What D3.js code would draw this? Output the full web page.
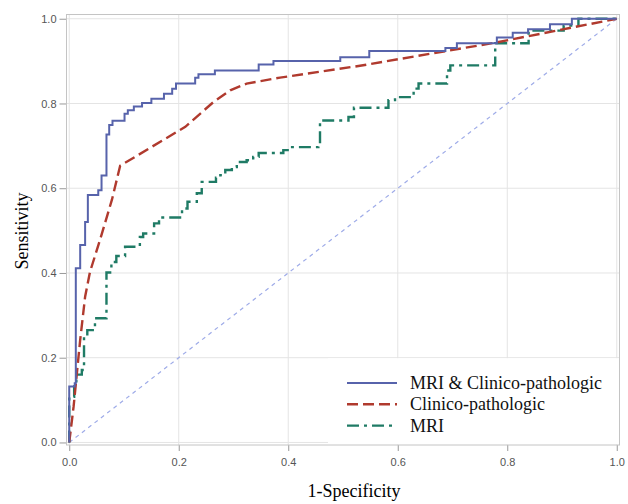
<!DOCTYPE html>
<html>
<head>
<meta charset="utf-8">
<script src="https://cdn.jsdelivr.net/npm/d3@7"></script>
<style>
    body { margin: 0; background: #fff; }
    #roc-chart { width: 628px; height: 504px; }
</style>
</head>
<body>
<div id="roc-chart"></div>
<script>
// values: [1-specificity, sensitivity]
let xTicks = [0.0, 0.2, 0.4, 0.6, 0.8, 1.0];
let yTicks = [0.0, 0.2, 0.4, 0.6, 0.8, 1.0];
let seriesNames = ["MRI & Clinico-pathologic", "Clinico-pathologic", "MRI"];

let combinedRoc = [
    [0, 0], [0, 0.132], [0.01, 0.14], [0.012, 0.411], [0.02, 0.466], [0.029, 0.52],
    [0.034, 0.584], [0.053, 0.595], [0.059, 0.63], [0.068, 0.727], [0.073, 0.749],
    [0.079, 0.759], [0.101, 0.776], [0.107, 0.784], [0.118, 0.793], [0.133, 0.801],
    [0.15, 0.811], [0.173, 0.823], [0.188, 0.835], [0.195, 0.847], [0.23, 0.861],
    [0.236, 0.869], [0.266, 0.878], [0.346, 0.892], [0.373, 0.9], [0.495, 0.909],
    [0.548, 0.924], [0.687, 0.931], [0.708, 0.942], [0.781, 0.956], [0.81, 0.967],
    [0.838, 0.975], [0.878, 0.987], [0.918, 1.0], [1, 1]
];

let clinicalRoc = [
    [0, 0], [0.008, 0.085], [0.02, 0.242], [0.029, 0.344], [0.038, 0.403],
    [0.056, 0.477], [0.078, 0.573], [0.093, 0.653], [0.212, 0.745], [0.263, 0.803],
    [0.294, 0.831], [0.324, 0.847], [0.385, 0.861], [0.531, 0.889], [0.78, 0.944], [1, 1]
];

let mriRoc = [
    [0, 0], [0, 0.108], [0.009, 0.132], [0.013, 0.16], [0.023, 0.171], [0.027, 0.25],
    [0.033, 0.265], [0.047, 0.293], [0.068, 0.401], [0.077, 0.426], [0.086, 0.44],
    [0.102, 0.462], [0.129, 0.485], [0.135, 0.493], [0.155, 0.517], [0.164, 0.531],
    [0.206, 0.552], [0.216, 0.568], [0.233, 0.588], [0.242, 0.615], [0.268, 0.625],
    [0.276, 0.631], [0.285, 0.643], [0.297, 0.65], [0.306, 0.662], [0.324, 0.666],
    [0.336, 0.674], [0.346, 0.683], [0.391, 0.69], [0.402, 0.697], [0.455, 0.705],
    [0.458, 0.76], [0.51, 0.768], [0.52, 0.79], [0.583, 0.808], [0.595, 0.815],
    [0.629, 0.835], [0.638, 0.847], [0.69, 0.878], [0.696, 0.89], [0.778, 0.942],
    [0.839, 0.972], [0.903, 0.984], [0.93, 1.0], [1, 1]
];

let chanceLine = [[0, 0], [1, 1]];

class RocChart {

    constructor(parentElement) {
        this.parentElement = parentElement;
        this.initVis();
    }

    initVis() {
        let vis = this;

        vis.frame = {left: 66.5, right: 619.5, top: 14.5, bottom: 445};

        vis.svg = d3.select("#" + vis.parentElement).append("svg")
            .attr("width", 628)
            .attr("height", 504);

        vis.x = d3.scaleLinear().domain([-0.005, 1.005]).range([vis.frame.left, vis.frame.right]);
        vis.y = d3.scaleLinear().domain([-0.006, 1.01]).range([vis.frame.bottom, vis.frame.top]);

        // grid
        vis.svg.append("g").selectAll("line.vgrid")
            .data(xTicks).enter().append("line")
            .attr("x1", d => vis.x(d)).attr("x2", d => vis.x(d))
            .attr("y1", vis.frame.top).attr("y2", vis.frame.bottom)
            .attr("stroke", "#e4e4e4");
        vis.svg.append("g").selectAll("line.hgrid")
            .data(yTicks).enter().append("line")
            .attr("x1", vis.frame.left).attr("x2", vis.frame.right)
            .attr("y1", d => vis.y(d)).attr("y2", d => vis.y(d))
            .attr("stroke", "#e4e4e4");

        // legend box covers the grid
        vis.svg.append("rect")
            .attr("x", 328).attr("y", vis.y(0.2) + 0.5)
            .attr("width", vis.frame.right - 328 - 0.5)
            .attr("height", vis.frame.bottom - vis.y(0.2) - 1)
            .attr("fill", "white");

        // axes
        let xAxis = d3.axisBottom(vis.x).tickValues(xTicks).tickFormat(d3.format(".1f")).tickSize(6).tickSizeOuter(0);
        let yAxis = d3.axisLeft(vis.y).tickValues(yTicks).tickFormat(d3.format(".1f")).tickSize(7).tickSizeOuter(0);

        vis.xAxisG = vis.svg.append("g")
            .attr("transform", `translate(0, ${vis.frame.bottom})`)
            .call(xAxis);
        vis.yAxisG = vis.svg.append("g")
            .attr("transform", `translate(${vis.frame.left}, 0)`)
            .call(yAxis);

        [vis.xAxisG, vis.yAxisG].forEach(g => {
            g.select(".domain").remove();
            g.selectAll(".tick line").attr("stroke", "#9a9a9a");
            g.selectAll(".tick text")
                .attr("fill", "#555")
                .style("font-family", "'Liberation Sans', Arial, sans-serif")
                .style("font-size", "11px");
        });
        vis.xAxisG.selectAll(".tick text").attr("dy", "1.1em");
        vis.yAxisG.selectAll(".tick text").attr("x", -10);

        vis.svg.append("rect")
            .attr("x", vis.frame.left).attr("y", vis.frame.top)
            .attr("width", vis.frame.right - vis.frame.left)
            .attr("height", vis.frame.bottom - vis.frame.top)
            .attr("fill", "none")
            .attr("stroke", "#c4c4c4");

        // titles
        vis.svg.append("text")
            .attr("x", 354).attr("y", 497)
            .attr("text-anchor", "middle")
            .style("font-family", "'Liberation Serif', 'Times New Roman', serif")
            .style("font-size", "18px")
            .text("1-Specificity");

        vis.svg.append("text")
            .attr("transform", "translate(28, 231) rotate(-90)")
            .attr("text-anchor", "middle")
            .style("font-family", "'Liberation Serif', 'Times New Roman', serif")
            .style("font-size", "18px")
            .text("Sensitivity");

        vis.wrangleData();
    }

    wrangleData() {
        let vis = this;

        vis.displayData = [
            {name: seriesNames[0], values: combinedRoc, color: "#5763ab", dash: null, width: 2, curve: d3.curveStepAfter},
            {name: seriesNames[1], values: clinicalRoc, color: "#b03a2e", dash: "11,5", width: 2.4, curve: d3.curveLinear},
            {name: seriesNames[2], values: mriRoc, color: "#1f7b65", dash: "12,5,3,5", width: 2.4, curve: d3.curveStepAfter}
        ];

        vis.updateVis();
    }

    updateVis() {
        let vis = this;

        vis.svg.append("path")
            .datum(chanceLine)
            .attr("d", d3.line().x(d => vis.x(d[0])).y(d => vis.y(d[1])))
            .attr("fill", "none")
            .attr("stroke", "#9eabe8")
            .attr("stroke-width", 1.2)
            .attr("stroke-dasharray", "4,4");

        vis.displayData.slice().reverse().forEach(s => {
            vis.svg.append("path")
                .datum(s.values)
                .attr("d", d3.line().curve(s.curve).x(d => vis.x(d[0])).y(d => vis.y(d[1])))
                .attr("fill", "none")
                .attr("stroke", s.color)
                .attr("stroke-width", s.width)
                .attr("stroke-dasharray", s.dash);
        });

        // legend
        let legend = vis.svg.append("g").attr("class", "legend");
        let rows = legend.selectAll("g").data(vis.displayData).enter().append("g")
            .attr("transform", (d, i) => `translate(347, ${383 + i * 21.3})`);

        rows.append("line")
            .attr("x1", 0).attr("x2", 50)
            .attr("stroke", d => d.color)
            .attr("stroke-width", d => d.width)
            .attr("stroke-dasharray", d => d.dash);

        rows.append("text")
            .attr("x", 63).attr("y", 6)
            .style("font-family", "'Liberation Serif', 'Times New Roman', serif")
            .style("font-size", "18px")
            .attr("fill", "#111")
            .text(d => d.name);
    }
}

new RocChart("roc-chart");
</script>
</body>
</html>
